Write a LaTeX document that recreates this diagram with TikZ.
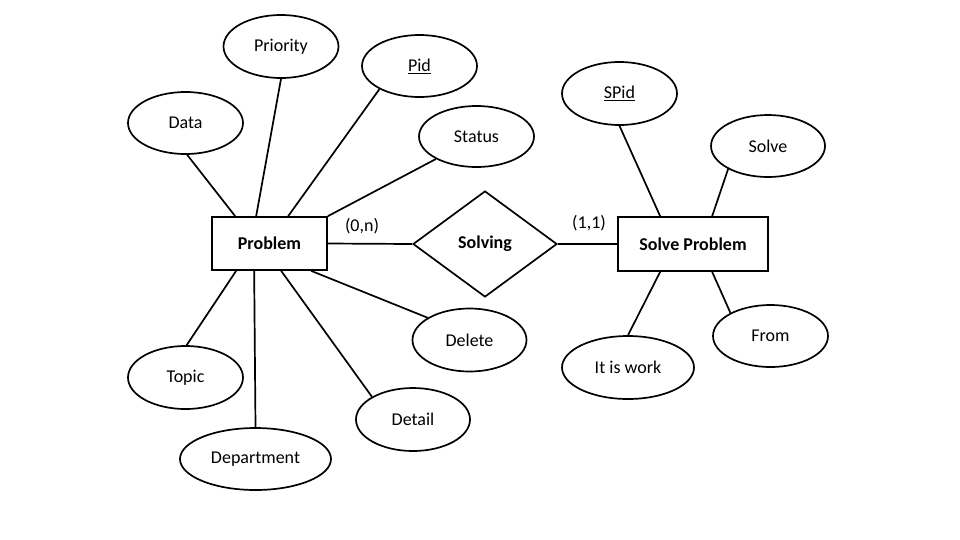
\documentclass[tikz,border=0pt]{standalone}
\usepackage{fontspec}
\setmainfont{Carlito}
\usetikzlibrary{shapes.geometric,calc}
\tikzset{
  attr/.style={draw, ellipse, line width=1.7pt, inner sep=0pt, minimum width=115pt, minimum height=62pt, font=\fontsize{18}{21}\selectfont},
  entity/.style={draw, rectangle, line width=1.7pt, inner sep=0pt, font=\fontsize{18}{21}\selectfont\bfseries},
  rel/.style={draw, diamond, line width=1.7pt, inner sep=0pt, minimum width=144pt, minimum height=106pt, aspect=1.36, font=\fontsize{18}{21}\selectfont\bfseries},
  card/.style={inner sep=0pt, font=\fontsize{18}{21}\selectfont},
  conn/.style={line width=1.7pt}
}
\begin{document}
\begin{tikzpicture}[x=1pt,y=-1pt]
\useasboundingbox[fill=white] (0,0) rectangle (960,539);
% entities
\node[entity, minimum width=115pt, minimum height=53pt] (problem) at (269.5,243.5) {Problem};
\node[entity, minimum width=150pt, minimum height=54pt] (solveproblem) at (693,244) {Solve Problem};
\node[rel] (solving) at (485,244) {Solving};
% attributes
\node[attr, minimum height=63pt] (priority) at (281,46.5) {Priority};
\node[attr] (pid) at (419.5,66) {\underline{Pid}};
\node[attr] (data) at (185.5,123) {Data};
\node[attr, minimum height=61pt] (status) at (476.5,136.5) {Status};
\node[attr, minimum height=63pt] (topic) at (185.5,377.5) {Topic};
\node[attr, minimum width=151pt] (department) at (255.5,459) {Department};
\node[attr, minimum width=114pt, minimum height=63pt] (detail) at (413,419.5) {Detail};
\node[attr, minimum width=114pt, minimum height=63pt] (delete) at (469.5,340) {Delete};
\node[attr, minimum height=63pt] (spid) at (619.5,93.5) {\underline{SPid}};
\node[attr, minimum width=114pt] (solve) at (768,146) {Solve};
\node[attr] (from) at (770.5,336) {From};
\node[attr, minimum width=132pt, minimum height=63pt] (itiswork) at (628,367.5) {It is work};
% cardinalities
\node[card] (c0n) at (362,226) {(0,n)};
\node[card] (c11) at (589,223) {(1,1)};
% anchor points on boxes
\coordinate (pN1) at ($(problem.north west)+(24,0)$);
\coordinate (pN2) at ($(problem.north west)+(45,0)$);
\coordinate (pN3) at ($(problem.north west)+(77,0)$);
\coordinate (pS1) at ($(problem.south west)+(25,0)$);
\coordinate (pS2) at ($(problem.south west)+(43,0)$);
\coordinate (pS3) at ($(problem.south west)+(70,0)$);
\coordinate (pS4) at ($(problem.south west)+(100,0)$);
\coordinate (sN1) at ($(solveproblem.north west)+(43,0)$);
\coordinate (sN2) at ($(solveproblem.north west)+(95,0)$);
\coordinate (sS1) at ($(solveproblem.south west)+(43,0)$);
\coordinate (sS2) at ($(solveproblem.south west)+(95,0)$);
% connectors
\draw[conn] (data.-87) -- (pN1);
\draw[conn] (priority.-90) -- (pN2);
\draw[conn] (pid.-150) -- (pN3);
\draw[conn] (status.-151) -- (problem.north east);
\draw[conn] (problem.east) -- (solving.west);
\draw[conn] (solving.east) -- (solveproblem.west);
\draw[conn] (topic.88) -- (pS1);
\draw[conn] (department.90) -- (pS2);
\draw[conn] (detail.151) -- (pS3);
\draw[conn] (delete.152) -- (pS4);
\draw[conn] (spid.-90) -- (sN1);
\draw[conn] (solve.-150) -- (sN2);
\draw[conn] (itiswork.90) -- (sS1);
\draw[conn] (from.150) -- (sS2);
\end{tikzpicture}
\end{document}
